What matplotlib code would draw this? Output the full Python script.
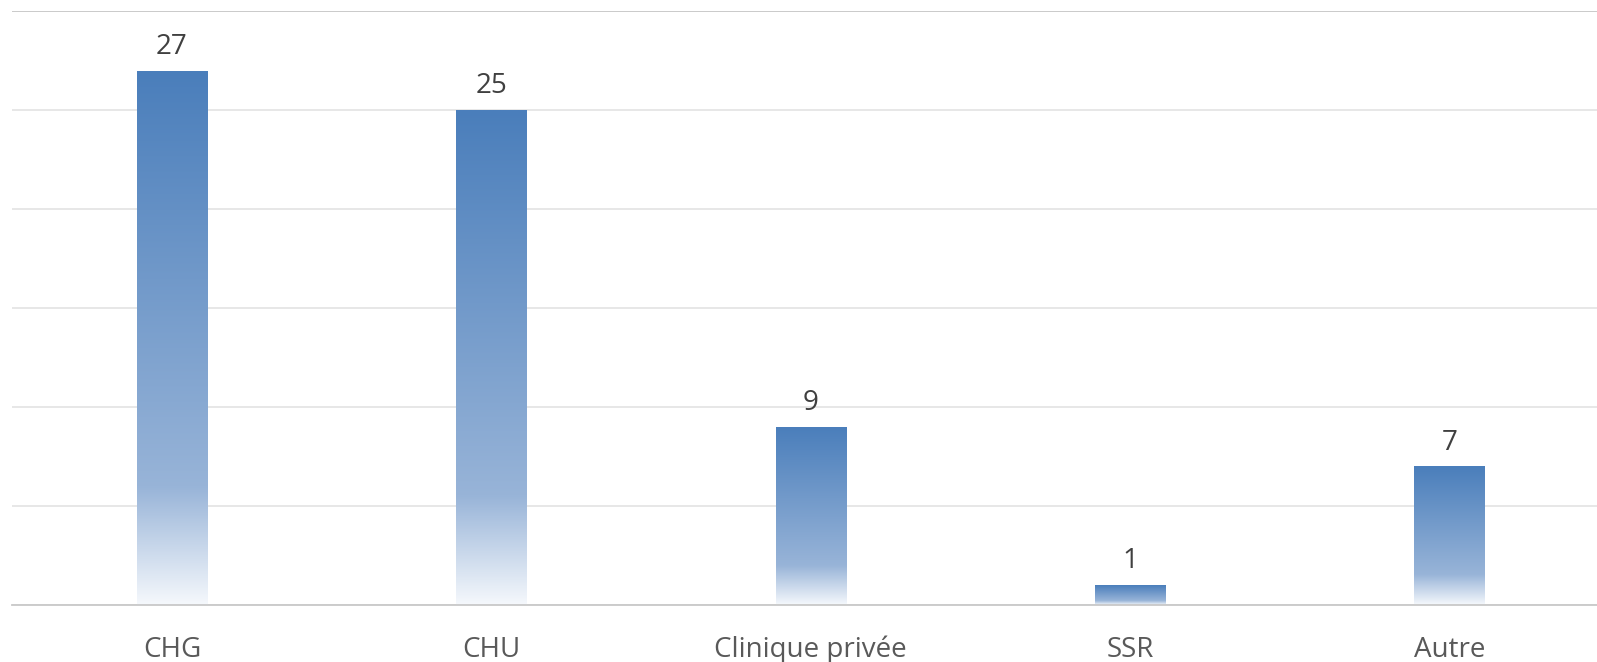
import matplotlib
matplotlib.use("Agg")
import matplotlib.pyplot as plt
import numpy as np
from matplotlib.colors import LinearSegmentedColormap

# data
categories = ["CHG", "CHU", "Clinique privée", "SSR", "Autre"]
counts = [27, 25, 9, 1, 7]

plt.rcParams["font.family"] = ["Open Sans", "DejaVu Sans"]

# Excel-like gradient fill: dark blue at top, fading to white at the bottom
grad = LinearSegmentedColormap.from_list(
    "bar_grad",
    [(0.0, (245/255, 248/255, 252/255)),
     (0.22, (152/255, 180/255, 216/255)),
     (1.0, (74/255, 126/255, 187/255))],
)

fig = plt.figure(figsize=(15.97, 6.62), dpi=100)
ax = fig.add_axes([0.0077, 0.0861, 1.0, 0.897])

x = np.arange(len(categories))
width = 0.22
bars = ax.bar(x, counts, width=width, color="none", edgecolor="none")

gradient = np.linspace(0, 1, 256).reshape(-1, 1)
for bar in bars:
    x0, y0 = bar.get_x(), bar.get_y()
    w, h = bar.get_width(), bar.get_height()
    im = ax.imshow(gradient, cmap=grad, origin="lower", aspect="auto",
                   extent=(x0, x0 + w, y0, y0 + h), zorder=2)
    im.set_clip_path(bar)

for xi, v in zip(x, counts):
    ax.annotate(str(v), (xi, v), xytext=(0, 7), textcoords="offset points",
                ha="center", va="bottom", fontsize=20, color="#404040")

ax.set_xlim(-0.5, len(categories) - 0.5)
ax.set_ylim(0, 30)
ax.set_yticks(np.arange(0, 31, 5))
ax.yaxis.grid(True, color="#e3e3e3", linewidth=1.2, zorder=0)
ax.set_axisbelow(True)
ax.tick_params(axis="y", left=False, labelleft=False)
ax.set_xticks(x)
ax.set_xticklabels(categories, fontsize=20, color="#595959")
ax.tick_params(axis="x", length=0, pad=22)
for side in ["left", "right", "top"]:
    ax.spines[side].set_visible(False)
ax.spines["bottom"].set_color("#c8c8c8")
ax.spines["bottom"].set_linewidth(1.3)
ax.axhline(30, color="#c8c8c8", linewidth=1.3, zorder=1)

fig.savefig("out.png", dpi=100)
